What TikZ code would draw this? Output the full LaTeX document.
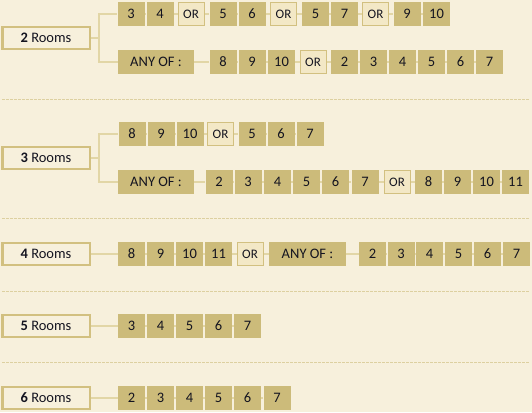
\documentclass[tikz,border=0pt]{standalone}
\usepackage{fontspec}
\setmainfont{Carlito}
\definecolor{bgc}{HTML}{F7F0DC}
\definecolor{tan}{HTML}{CCBB7A}
\definecolor{orfill}{HTML}{F3E8C6}
\definecolor{edge}{HTML}{D2C080}
\definecolor{linec}{HTML}{E2D6A6}
\definecolor{sepc}{HTML}{DDD0A0}
\definecolor{txt}{HTML}{141420}
\pgfdeclarelayer{bglayer}
\pgfdeclarelayer{lines}
\pgfsetlayers{bglayer,lines,main}
\tikzset{
  num/.style={rectangle, fill=tan, minimum width=27pt, minimum height=24pt, inner sep=0pt,
    text=txt, font=\fontsize{14.5}{16}\selectfont},
  anybox/.style={num, minimum width=76pt},
  orbox/.style={rectangle, fill=orfill, draw=edge, line width=1pt, minimum width=26pt, minimum height=23.5pt,
    inner sep=0pt, text=txt, font=\fontsize{13}{15}\selectfont},
  room/.style={rectangle, fill=bgc, draw=edge, line width=2.5pt, minimum width=87.5pt, minimum height=22pt,
    inner sep=0pt, text=txt, font=\fontsize{14.5}{16}\selectfont},
  conn/.style={draw=linec, line width=1.5pt},
  sep/.style={draw=sepc, line width=1pt, dash pattern=on 3pt off 1pt}
}
\begin{document}
\begin{tikzpicture}[x=1pt,y=-1pt]
\useasboundingbox (0,0) rectangle (532,412);
\begin{pgfonlayer}{bglayer}
\fill[bgc] (0,0) rectangle (532,412);
\end{pgfonlayer}

% ---------- 2 Rooms ----------
\node[room] (R2) at (46,38) {\textbf{2} Rooms};
\coordinate (k2) at (99,38);
\node[num]  (a1)  at (131,14) {3};
\node[num]  (a2)  at (160,14) {4};
\node[orbox](a3)  at (191,14) {OR};
\node[num]  (a4)  at (223,14) {5};
\node[num]  (a5)  at (252,14) {6};
\node[orbox](a6)  at (283.5,14) {OR};
\node[num]  (a7)  at (315.5,14) {5};
\node[num]  (a8)  at (344.5,14) {7};
\node[orbox](a9)  at (375.5,14) {OR};
\node[num]  (a10) at (407,14) {9};
\node[num]  (a11) at (436.5,14) {10};

\node[anybox](b1) at (156,62) {ANY OF :};
\node[num]  (b2)  at (223,62) {8};
\node[num]  (b3)  at (252,62) {9};
\node[num]  (b4)  at (281.5,62) {10};
\node[orbox](b5)  at (313,62) {OR};
\node[num]  (b6)  at (344.5,62) {2};
\node[num]  (b7)  at (373.5,62) {3};
\node[num]  (b8)  at (402.5,62) {4};
\node[num]  (b9)  at (431.5,62) {5};
\node[num]  (b10) at (460.5,62) {6};
\node[num]  (b11) at (489.5,62) {7};

% ---------- 3 Rooms ----------
\node[room] (R3) at (46,158) {\textbf{3} Rooms};
\coordinate (k3) at (99,158);
\node[num]  (c1) at (132,134) {8};
\node[num]  (c2) at (161,134) {9};
\node[num]  (c3) at (190,134) {10};
\node[orbox](c4) at (220.5,134) {OR};
\node[num]  (c5) at (252,134) {5};
\node[num]  (c6) at (281,134) {6};
\node[num]  (c7) at (310,134) {7};

\node[anybox](d1) at (156,182) {ANY OF :};
\node[num]  (d2)  at (219,182) {2};
\node[num]  (d3)  at (248,182) {3};
\node[num]  (d4)  at (277.5,182) {4};
\node[num]  (d5)  at (306.5,182) {5};
\node[num]  (d6)  at (335.5,182) {6};
\node[num]  (d7)  at (365,182) {7};
\node[orbox](d8)  at (397,182) {OR};
\node[num]  (d9)  at (428.5,182) {8};
\node[num]  (d10) at (457.5,182) {9};
\node[num]  (d11) at (486.5,182) {10};
\node[num]  (d12) at (515.5,182) {11};

% ---------- 4 Rooms ----------
\node[room] (R4) at (46,254) {\textbf{4} Rooms};
\node[num]  (e1)  at (131.5,254) {8};
\node[num]  (e2)  at (160.5,254) {9};
\node[num]  (e3)  at (189.5,254) {10};
\node[num]  (e4)  at (218.5,254) {11};
\node[orbox](e5)  at (250,254) {OR};
\node[anybox,minimum width=77pt](e6) at (307.5,254) {ANY OF :};
\node[num]  (e7)  at (372.5,254) {2};
\node[num]  (e8)  at (401,254) {3};
\node[num]  (e9)  at (429.5,254) {4};
\node[num]  (e10) at (458.5,254) {5};
\node[num]  (e11) at (487.5,254) {6};
\node[num]  (e12) at (516.5,254) {7};

% ---------- 5 Rooms ----------
\node[room] (R5) at (46,326) {\textbf{5} Rooms};
\node[num] (f1) at (131.5,326) {3};
\node[num] (f2) at (160.5,326) {4};
\node[num] (f3) at (189.5,326) {5};
\node[num] (f4) at (218.5,326) {6};
\node[num] (f5) at (247.5,326) {7};

% ---------- 6 Rooms ----------
\node[room] (R6) at (46,398) {\textbf{6} Rooms};
\node[num] (g1) at (131.5,398) {2};
\node[num] (g2) at (160.5,398) {3};
\node[num] (g3) at (189.5,398) {4};
\node[num] (g4) at (218.5,398) {5};
\node[num] (g5) at (247.5,398) {6};
\node[num] (g6) at (277,398) {7};

% ---------- separators ----------
\coordinate (s1a) at (2,99);  \coordinate (s1b) at (530,99);
\coordinate (s2a) at (2,218); \coordinate (s2b) at (530,218);
\coordinate (s3a) at (2,291); \coordinate (s3b) at (530,291);
\coordinate (s4a) at (2,362); \coordinate (s4b) at (530,362);
\draw[sep] (s1a) -- (s1b);
\draw[sep] (s2a) -- (s2b);
\draw[sep] (s3a) -- (s3b);
\draw[sep] (s4a) -- (s4b);

% ---------- connectors ----------
\begin{pgfonlayer}{lines}
\draw[conn] (R2.east) -- (k2);
\draw[conn] (k2) |- (a1.west);
\draw[conn] (k2) |- (b1.west);
\draw[conn] (a1) -- (a2) -- (a3) -- (a4) -- (a5) -- (a6) -- (a7) -- (a8) -- (a9) -- (a10) -- (a11);
\draw[conn] (b1) -- (b2) -- (b3) -- (b4) -- (b5) -- (b6) -- (b7) -- (b8) -- (b9) -- (b10) -- (b11);

\draw[conn] (R3.east) -- (k3);
\draw[conn] (k3) |- (c1.west);
\draw[conn] (k3) |- (d1.west);
\draw[conn] (c1) -- (c2) -- (c3) -- (c4) -- (c5) -- (c6) -- (c7);
\draw[conn] (d1) -- (d2) -- (d3) -- (d4) -- (d5) -- (d6) -- (d7) -- (d8) -- (d9) -- (d10) -- (d11) -- (d12);

\draw[conn] (R4) -- (e1) -- (e2) -- (e3) -- (e4) -- (e5) -- (e6) -- (e7) -- (e8) -- (e9) -- (e10) -- (e11) -- (e12);
\draw[conn] (R5) -- (f1) -- (f2) -- (f3) -- (f4) -- (f5);
\draw[conn] (R6) -- (g1) -- (g2) -- (g3) -- (g4) -- (g5) -- (g6);
\end{pgfonlayer}
\end{tikzpicture}
\end{document}
